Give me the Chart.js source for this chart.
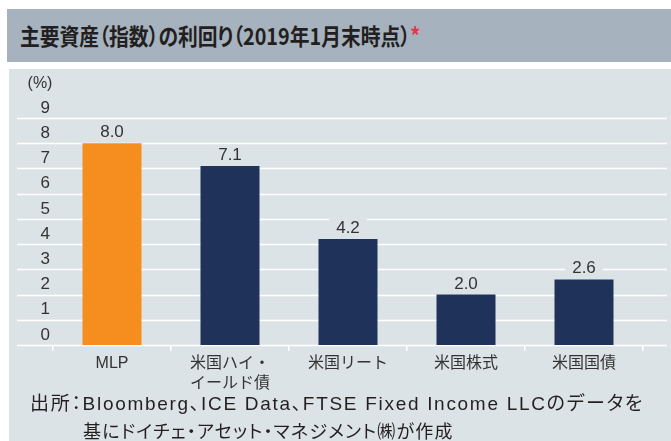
<!DOCTYPE html>
<html>
<head>
  <meta charset="utf-8" />
  <title>主要資産（指数）の利回り</title>
  <script src="https://cdn.jsdelivr.net/npm/chart.js@4.4.1/dist/chart.umd.min.js"></script>
  <style>
    html, body {
      margin: 0;
      padding: 0;
      width: 671px;
      height: 441px;
      overflow: hidden;
      background: #ffffff;
    }
    #head {
      position: absolute;
      left: 7px;
      top: 9px;
      width: 664px;
      height: 53px;
      background: #a6b2bd;
    }
    #title {
      position: absolute;
      left: 13px;
      top: 11px;
      font-family: 'Noto Sans CJK JP', sans-serif;
      font-weight: bold;
      font-size: 23px;
      line-height: 30px;
      color: #231f20;
      white-space: nowrap;
      font-feature-settings: "palt";
      transform-origin: 0 50%;
      transform: scaleX(0.86);
    }
    #title .mark { color: #e8334a; }
    #panel {
      position: absolute;
      left: 9px;
      top: 69px;
      right: 0;
      bottom: 0;
      background: #dce3e6;
    }
    #wrap {
      position: absolute;
      left: 0;
      top: 0;
      width: 671px;
      height: 441px;
    }
    .src {
      position: absolute;
      font-family: 'Liberation Sans', 'Noto Sans CJK JP', sans-serif;
      font-size: 18px;
      line-height: 22px;
      letter-spacing: 1.2px;
      color: #231f20;
      white-space: nowrap;
      font-feature-settings: "palt";
    }
    .src.first {
      font-size: 19px;
      letter-spacing: 1.7px;
    }
  </style>
</head>
<body>
  <div id="head"><div id="title">主要資産（指数）の利回り（2019年1月末時点）<span class="mark">*</span></div></div>
  <div id="panel"></div>
  <div id="wrap"><canvas id="chart"></canvas></div>
  <div class="src first" style="left:30px; top:393px;">出所：Bloomberg、ICE Data、FTSE Fixed Income LLCのデータを</div>
  <div class="src" style="left:83px; top:421px;">基にドイチェ・アセット・マネジメント㈱が作成</div>
  <script>
    var categories = ['MLP', ['米国ハイ・', 'イールド債'], '米国リート', '米国株式', '米国国債'];
    var yields = [8.0, 7.1, 4.2, 2.0, 2.6];
    var yMin = 0;
    var yMax = 9;
    var unitLabel = '(%)';

    var panelColor = '#dce3e6';
    var textColor = '#333333';

    Chart.defaults.font.family = "'Liberation Sans', 'Noto Sans CJK JP', sans-serif";

    // white gridlines run wider than the plot, under the tick labels
    var wideGrid = {
      id: 'wideGrid',
      beforeDatasetsDraw: function(chart) {
        var ctx = chart.ctx;
        var y = chart.scales.y;
        ctx.save();
        ctx.strokeStyle = '#ffffff';
        ctx.lineWidth = 1.5;
        y.ticks.forEach(function(t) {
          var py = Math.round(y.getPixelForValue(t.value)) + 0.5;
          ctx.beginPath();
          ctx.moveTo(17, py);
          ctx.lineTo(667, py);
          ctx.stroke();
        });
        ctx.fillStyle = textColor;
        ctx.font = "16px 'Liberation Sans', sans-serif";
        ctx.textAlign = 'center';
        ctx.textBaseline = 'middle';
        ctx.fillText(unitLabel, 40, 84);
        ctx.restore();
      }
    };

    var valueLabels = {
      id: 'valueLabels',
      afterDatasetsDraw: function(chart) {
        var ctx = chart.ctx;
        var meta = chart.getDatasetMeta(0);
        ctx.save();
        ctx.font = "17px 'Liberation Sans', sans-serif";
        ctx.textAlign = 'center';
        ctx.textBaseline = 'alphabetic';
        meta.data.forEach(function(bar, i) {
          var txt = yields[i].toFixed(1);
          var w = ctx.measureText(txt).width;
          var base = bar.y - 6;
          ctx.fillStyle = panelColor;
          ctx.fillRect(bar.x - w / 2 - 7, base - 15, w + 14, 17);
          ctx.fillStyle = textColor;
          ctx.fillText(txt, bar.x, base);
        });
        ctx.restore();
      }
    };

    new Chart(document.getElementById('chart'), {
      type: 'bar',
      data: {
        labels: categories,
        datasets: [{
          data: yields,
          backgroundColor: yields.map(function(v, i) { return i === 0 ? '#f58d1f' : '#1f335a'; }),
          barPercentage: 0.5,
          categoryPercentage: 1.0
        }]
      },
      options: {
        responsive: true,
        maintainAspectRatio: false,
        animation: false,
        layout: { padding: { left: 0, right: 28, top: 118, bottom: 0 } },
        plugins: {
          legend: { display: false },
          tooltip: { enabled: false }
        },
        scales: {
          x: {
            offset: true,
            border: { display: false },
            grid: {
              drawOnChartArea: false,
              drawTicks: true,
              tickLength: 6,
              color: '#ffffff',
              lineWidth: 1.5
            },
            ticks: {
              padding: 3,
              color: textColor,
              font: { size: 16, lineHeight: 1.25 },
              maxRotation: 0
            },
            afterFit: function(s) { s.height = 96; }
          },
          y: {
            min: yMin,
            max: yMax,
            border: { display: false },
            grid: { display: false, drawTicks: false },
            ticks: {
              stepSize: 1,
              padding: 3,
              labelOffset: -10,
              color: textColor,
              font: { size: 17 }
            },
            afterFit: function(s) { s.width = 53; }
          }
        }
      },
      plugins: [wideGrid, valueLabels]
    });
  </script>
</body>
</html>
